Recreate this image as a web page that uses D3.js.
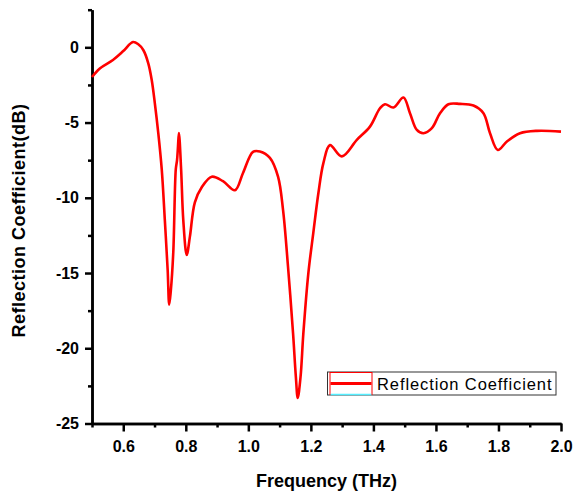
<!DOCTYPE html>
<html>
<head>
<meta charset="utf-8">
<script src="https://cdn.jsdelivr.net/npm/d3@7"></script>
<style>
  body { margin: 0; background: #fff; }
  svg { display: block; font-family: "Liberation Sans", Arial, sans-serif; }
  .axis path, .axis line { stroke: #000; stroke-width: 2.5; }
  .axis text { font-size: 16px; font-weight: bold; fill: #000; }
</style>
</head>
<body>
<svg id="chart"></svg>
<script>
// Frequency (THz) and reflection coefficient (dB)
const freq = [0.500, 0.525, 0.567, 0.600, 0.631, 0.648, 0.664, 0.680, 0.691, 0.701, 0.712, 0.723,
  0.733, 0.742, 0.747, 0.752, 0.760, 0.768, 0.772, 0.775, 0.778, 0.785, 0.792, 0.803, 0.813,
  0.829, 0.851, 0.883, 0.919, 0.957, 0.983, 1.015, 1.037, 1.069, 1.095, 1.111, 1.127, 1.143,
  1.152, 1.158, 1.167, 1.176, 1.192, 1.208, 1.224, 1.240, 1.261, 1.299, 1.347, 1.389, 1.421,
  1.437, 1.464, 1.496, 1.517, 1.539, 1.560, 1.587, 1.613, 1.640, 1.677, 1.720, 1.752, 1.773,
  1.798, 1.827, 1.869, 1.923, 2.000];
const refl = [-1.97, -1.40, -0.84, -0.25, 0.35, 0.20, -0.18, -1.06, -2.17, -3.72, -5.70, -8.10,
  -11.5, -14.8, -17.1, -16.2, -13.6, -8.10, -7.50, -6.60, -5.70, -8.10, -11.5, -13.8, -12.6,
  -10.3, -9.30, -8.60, -8.90, -9.50, -8.35, -6.95, -6.93, -7.35, -8.60, -10.8, -14.6, -19.0,
  -21.9, -23.3, -21.9, -19.0, -15.0, -12.3, -9.70, -7.70, -6.50, -7.25, -6.15, -5.27, -4.05,
  -3.78, -4.00, -3.34, -4.38, -5.49, -5.71, -5.37, -4.38, -3.78, -3.76, -3.87, -4.38, -5.71,
  -6.82, -6.26, -5.71, -5.55, -5.60];

const xTicks = [0.6, 0.8, 1.0, 1.2, 1.4, 1.6, 1.8, 2.0];
const xMinor = [0.5, 0.7, 0.9, 1.1, 1.3, 1.5, 1.7, 1.9];
const yTicks = [0, -5, -10, -15, -20, -25];
const yMinor = [2.5, -2.5, -7.5, -12.5, -17.5, -22.5];
const seriesName = "Reflection Coefficient";

const W = 574, H = 492;
const margin = { top: 9.7, right: 13, bottom: 68.5, left: 92 };

const svg = d3.select("#chart").attr("width", W).attr("height", H);

const x = d3.scaleLinear().domain([0.5, 2.0]).range([margin.left, W - margin.right]);
const y = d3.scaleLinear().domain([-25, 2.5]).range([H - margin.bottom, margin.top]);

// minor ticks first, then major
svg.append("g").attr("class", "axis")
  .attr("transform", `translate(0,${H - margin.bottom})`)
  .call(d3.axisBottom(x).tickValues(xMinor).tickSize(4).tickSizeOuter(0).tickFormat(""));
svg.append("g").attr("class", "axis")
  .attr("transform", `translate(0,${H - margin.bottom})`)
  .call(d3.axisBottom(x).tickValues(xTicks).tickSize(8).tickSizeOuter(0).tickPadding(9)
    .tickFormat(d3.format(".1f")));

svg.append("g").attr("class", "axis")
  .attr("transform", `translate(${margin.left},0)`)
  .call(d3.axisLeft(y).tickValues(yMinor).tickSize(4).tickSizeOuter(0).tickFormat(""));
svg.append("g").attr("class", "axis")
  .attr("transform", `translate(${margin.left},0)`)
  .call(d3.axisLeft(y).tickValues(yTicks).tickSize(7).tickSizeOuter(0).tickPadding(6)
    .tickFormat(d => d));

// axis titles
svg.append("text")
  .attr("x", (x.range()[0] + x.range()[1]) / 2)
  .attr("y", 487)
  .attr("text-anchor", "middle")
  .style("font-size", "18px").style("font-weight", "bold")
  .text("Frequency (THz)");

svg.append("text")
  .attr("transform", `translate(25,${(y.range()[0] + y.range()[1]) / 2 + 4}) rotate(-90)`)
  .attr("text-anchor", "middle")
  .style("font-size", "18px").style("font-weight", "bold")
  .style("letter-spacing", "0.5px")
  .text("Reflection Coefficient(dB)");

// the curve
const pts = freq.map((f, i) => [f, refl[i]]);
svg.append("path")
  .datum(pts)
  .attr("fill", "none")
  .attr("stroke", "#ff0000")
  .attr("stroke-width", 2.6)
  .attr("stroke-linejoin", "round")
  .attr("d", d3.line().x(d => x(d[0])).y(d => y(d[1])).curve(d3.curveCatmullRom.alpha(0.5)));

// legend
const lg = svg.append("g").attr("transform", "translate(327.5,372)");
lg.append("rect").attr("width", 228.5).attr("height", 23)
  .attr("fill", "#fff").attr("stroke", "#333").attr("stroke-width", 1);
lg.append("rect").attr("x", 2.5).attr("y", 0.5).attr("width", 42).attr("height", 22)
  .attr("fill", "none").attr("stroke", "#ff0000").attr("stroke-width", 1);
lg.append("line").attr("x1", 3).attr("x2", 44).attr("y1", 22.5).attr("y2", 22.5)
  .attr("stroke", "#55eeff").attr("stroke-width", 1.5);
lg.append("line").attr("x1", 3).attr("x2", 44).attr("y1", 11.5).attr("y2", 11.5)
  .attr("stroke", "#ff0000").attr("stroke-width", 3);
lg.append("text").attr("x", 49.5).attr("y", 17.5)
  .style("font-size", "16.5px").style("letter-spacing", "0.9px")
  .text(seriesName);
</script>
</body>
</html>
